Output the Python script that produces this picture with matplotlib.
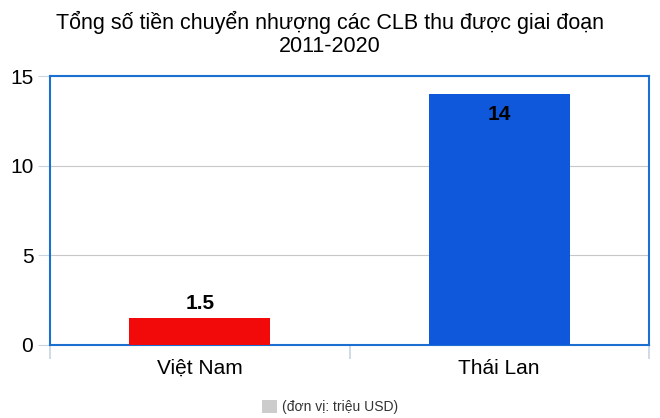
import matplotlib
matplotlib.use("Agg")
import matplotlib.pyplot as plt
from matplotlib.patches import Patch

categories = ["Việt Nam", "Thái Lan"]
values = [1.5, 14]
value_labels = ["1.5", "14"]
colors = ["#f20a0a", "#0f58dc"]
yticks = [0, 5, 10, 15]
title = "Tổng số tiền chuyển nhượng các CLB thu được giai đoạn\n2011-2020"
legend_label = "(đơn vị: triệu USD)"

plt.rcParams['font.family'] = ['Liberation Sans', 'DejaVu Sans']

fig = plt.figure(figsize=(6.6, 4.18), dpi=100)
ax = fig.add_axes([50/660, 1-345/418, 599/660, (345-76)/418])

x = [0.5, 1.5]
ax.bar(x, values, width=0.47, color=colors, zorder=3)
ax.set_xlim(0, 2)
ax.set_ylim(0, 15)
ax.set_yticks(yticks)
ax.set_yticklabels([str(t) for t in yticks], fontsize=15)
ax.set_xticks(x)
ax.set_xticklabels(categories, fontsize=15)
ax.tick_params(axis='x', length=0, pad=10)
ax.tick_params(axis='y', length=9, color="#c8d4e0", pad=3)
# category boundary ticks
ax.set_xticks([0, 1, 2], minor=True)
ax.tick_params(axis='x', which='minor', length=10, color="#c8d4e0", width=1.2)
ax.grid(axis='y', color="#c8c8c8", linewidth=0.8, zorder=0)
for s in ax.spines.values():
    s.set_color("#1a6fd0")
    s.set_linewidth(1.5)

# value labels
ax.text(x[0], values[0] + 0.3, value_labels[0], ha='center', va='bottom',
        fontsize=15, fontweight='bold')
ax.text(x[1], values[1] - 0.6, value_labels[1], ha='center', va='top',
        fontsize=15, fontweight='bold')

fig.suptitle(title, fontsize=15.5, y=0.975, linespacing=1.15)

handle = Patch(facecolor="#cccccc", edgecolor="none")
fig.legend([handle], [legend_label], loc='center', bbox_to_anchor=(0.5, 1 - 407/418),
           frameon=False, fontsize=10, handlelength=1.1, handleheight=1.1, handletextpad=0.4,
           labelcolor="#333333")

fig.savefig("out.png", dpi=100)
